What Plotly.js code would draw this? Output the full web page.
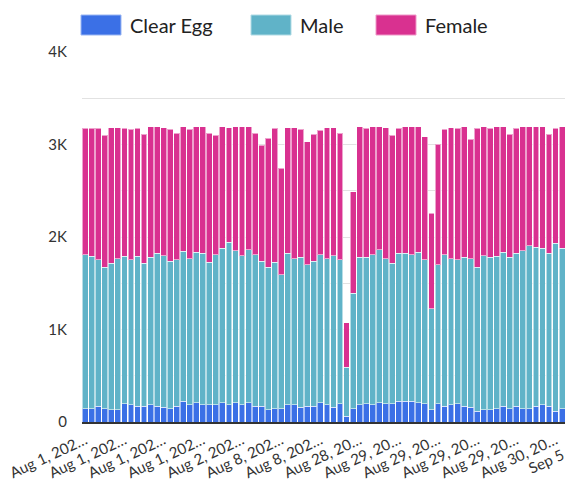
<!DOCTYPE html>
<html>
<head>
<meta charset="utf-8">
<script src="https://cdn.plot.ly/plotly-3.0.1.min.js"></script>
<style>
  html, body { margin: 0; padding: 0; overflow: hidden; background: #fff; }
  #chart { width: 600px; height: 483px; }
</style>
</head>
<body>
<div id="chart"></div>
<script>
// hourly buckets, the chart is cut off on the right so the last few are out of view
const categories = [
  'Aug 1, 2023, 00:00', 'Aug 1, 2023, 01:00', 'Aug 1, 2023, 02:00', 'Aug 1, 2023, 03:00',
  'Aug 1, 2023, 04:00', 'Aug 1, 2023, 05:00', 'Aug 1, 2023, 06:00', 'Aug 1, 2023, 07:00',
  'Aug 1, 2023, 08:00', 'Aug 1, 2023, 09:00', 'Aug 1, 2023, 10:00', 'Aug 1, 2023, 11:00',
  'Aug 1, 2023, 12:00', 'Aug 1, 2023, 13:00', 'Aug 1, 2023, 14:00', 'Aug 1, 2023, 15:00',
  'Aug 1, 2023, 16:00', 'Aug 1, 2023, 17:00', 'Aug 1, 2023, 18:00', 'Aug 1, 2023, 19:00',
  'Aug 1, 2023, 20:00', 'Aug 1, 2023, 21:00', 'Aug 1, 2023, 22:00', 'Aug 1, 2023, 23:00',
  'Aug 2, 2023, 00:00', 'Aug 2, 2023, 01:00', 'Aug 2, 2023, 02:00', 'Aug 2, 2023, 03:00',
  'Aug 2, 2023, 04:00', 'Aug 2, 2023, 05:00',
  'Aug 8, 2023, 00:00', 'Aug 8, 2023, 01:00', 'Aug 8, 2023, 02:00', 'Aug 8, 2023, 03:00',
  'Aug 8, 2023, 04:00', 'Aug 8, 2023, 05:00', 'Aug 8, 2023, 06:00', 'Aug 8, 2023, 07:00',
  'Aug 8, 2023, 08:00', 'Aug 8, 2023, 09:00', 'Aug 8, 2023, 10:00', 'Aug 8, 2023, 11:00',
  'Aug 28, 2023, 18:00', 'Aug 28, 2023, 19:00', 'Aug 28, 2023, 20:00', 'Aug 28, 2023, 21:00',
  'Aug 28, 2023, 22:00', 'Aug 28, 2023, 23:00',
  'Aug 29, 2023, 00:00', 'Aug 29, 2023, 01:00', 'Aug 29, 2023, 02:00', 'Aug 29, 2023, 03:00',
  'Aug 29, 2023, 04:00', 'Aug 29, 2023, 05:00', 'Aug 29, 2023, 06:00', 'Aug 29, 2023, 07:00',
  'Aug 29, 2023, 08:00', 'Aug 29, 2023, 09:00', 'Aug 29, 2023, 10:00', 'Aug 29, 2023, 11:00',
  'Aug 29, 2023, 12:00', 'Aug 29, 2023, 13:00', 'Aug 29, 2023, 14:00', 'Aug 29, 2023, 15:00',
  'Aug 29, 2023, 16:00', 'Aug 29, 2023, 17:00', 'Aug 29, 2023, 18:00', 'Aug 29, 2023, 19:00',
  'Aug 29, 2023, 20:00', 'Aug 29, 2023, 21:00', 'Aug 29, 2023, 22:00', 'Aug 29, 2023, 23:00',
  'Aug 30, 2023, 00:00', 'Aug 30, 2023, 01:00', 'Aug 30, 2023, 02:00', 'Aug 30, 2023, 03:00',
  'Aug 30, 2023, 04:00', 'Aug 30, 2023, 05:00',
  'Sep 5, 2023, 00:00'
];

const clearEgg = [
  144, 144, 169, 144, 130, 130, 198, 184, 169, 169,
  184, 169, 159, 144, 169, 223, 184, 209, 184, 184,
  184, 209, 184, 209, 184, 209, 169, 169, 130, 144,
  144, 184, 184, 159, 169, 169, 209, 184, 159, 198,
  61, 144, 184, 198, 184, 209, 198, 198, 223, 223,
  223, 209, 198, 130, 198, 169, 184, 198, 169, 159,
  115, 130, 130, 144, 169, 144, 169, 144, 144, 169,
  184, 169, 115, 144, 150, 165, 140, 155, 160
];

const male = [
  1665, 1650, 1586, 1528, 1586, 1636, 1596, 1571, 1625, 1546,
  1596, 1654, 1636, 1596, 1586, 1625, 1582, 1625, 1640, 1542,
  1625, 1668, 1759, 1640, 1611, 1654, 1640, 1571, 1542, 1582,
  1449, 1640, 1582, 1622, 1532, 1571, 1600, 1582, 1636, 1557,
  530, 1247, 1596, 1582, 1625, 1654, 1568, 1517, 1600, 1600,
  1586, 1625, 1557, 1095, 1503, 1640, 1582, 1557, 1611, 1607,
  1557, 1665, 1650, 1650, 1665, 1636, 1654, 1705, 1759, 1719,
  1694, 1654, 1816, 1733, 1720, 1690, 1740, 1705, 1680
];

const female = [
  1369, 1384, 1423, 1427, 1463, 1413, 1384, 1409, 1384, 1395,
  1413, 1369, 1384, 1423, 1369, 1344, 1398, 1359, 1369, 1398,
  1290, 1315, 1236, 1344, 1398, 1330, 1315, 1254, 1398, 1452,
  1153, 1355, 1413, 1384, 1330, 1369, 1344, 1413, 1384, 1369,
  483, 1099, 1413, 1398, 1384, 1330, 1413, 1384, 1355, 1369,
  1384, 1359, 1330, 1034, 1301, 1355, 1413, 1423, 1413, 1290,
  1506, 1398, 1398, 1398, 1359, 1330, 1355, 1344, 1290, 1305,
  1315, 1286, 1247, 1315, 1320, 1345, 1300, 1330, 1350
];

// every 6th bucket gets a (truncated) label
const tickIndex = [0, 6, 12, 18, 24, 30, 36, 42, 48, 54, 60, 66, 72, 78];
const tickLabels = [
  'Aug 1, 202…', 'Aug 1, 202…', 'Aug 1, 202…', 'Aug 1, 202…', 'Aug 2, 202…',
  'Aug 8, 202…', 'Aug 8, 202…', 'Aug 28, 20…', 'Aug 29, 20…', 'Aug 29, 20…',
  'Aug 29, 20…', 'Aug 29, 20…', 'Aug 30, 20…', 'Sep 5, 20…'
];

const yTickVals = [0, 1000, 2000, 3000, 4000];
const yTickText = ['0', '1K', '2K', '3K', '4K'];

const seriesNames = ['Clear Egg', 'Male', 'Female'];
const seriesColors = ['#3b70e6', '#60b3c8', '#d93190'];
const seriesEdges = ['#9ab6f3', '#b0dbe5', '#ef98c8'];

const FONT = 'Lato, "Open Sans", sans-serif';

const traces = [clearEgg, male, female].map((values, i) => ({
  type: 'bar',
  name: seriesNames[i],
  x: categories,
  y: values,
  marker: {
    color: seriesColors[i],
    line: { color: 'rgba(255,255,255,0.55)', width: 1 },
  },
  hoverinfo: 'x+y+name',
}));

// plot area in pixels, used for the hand made legend
const margin = { l: 82, r: 2, t: 52, b: 61 };
const W = 600, H = 483;
const plotW = W - margin.l - margin.r;
const plotH = H - margin.t - margin.b;
const fx = px => (px - margin.l) / plotW;
const fy = py => (H - margin.b - py) / plotH;

// legend: big swatches like the original
const legendX = [81, 251, 376];
const shapes = legendX.map((x0, i) => ({
  type: 'rect',
  xref: 'paper', yref: 'paper',
  x0: fx(x0), x1: fx(x0 + 40),
  y0: fy(35), y1: fy(15),
  fillcolor: seriesColors[i],
  line: { color: seriesEdges[i], width: 1 },
}));
const annotations = legendX.map((x0, i) => ({
  xref: 'paper', yref: 'paper',
  x: fx(x0 + 47), y: fy(25),
  xanchor: 'left', yanchor: 'middle',
  text: seriesNames[i],
  showarrow: false,
  font: { family: FONT, size: 20, color: '#222' },
}));

const layout = {
  width: W,
  height: H,
  margin: margin,
  barmode: 'stack',
  bargap: 0.1,
  showlegend: false,
  paper_bgcolor: '#fff',
  plot_bgcolor: '#fff',
  font: { family: FONT, size: 14, color: '#333' },
  xaxis: {
    type: 'category',
    range: [-0.5, categories.length - 0.5],
    tickmode: 'array',
    tickvals: tickIndex.map(i => categories[i]),
    ticktext: tickLabels,
    tickangle: -25,
    ticks: '',
    ticklabelstandoff: 2,
    showgrid: false,
    showline: true,
    linecolor: '#333',
    linewidth: 2,
    tickfont: { family: FONT, size: 15, color: '#333' },
    fixedrange: true,
  },
  yaxis: {
    range: [0, 4000],
    tickmode: 'array',
    tickvals: yTickVals,
    ticktext: yTickText,
    ticks: '',
    ticklabelstandoff: 14,
    showgrid: true,
    gridcolor: '#e2e2e2',
    gridwidth: 1,
    zeroline: false,
    minor: { dtick: 500, showgrid: true, gridcolor: '#e2e2e2', gridwidth: 1, ticks: '' },
    tickfont: { family: FONT, size: 15, color: '#333' },
    fixedrange: true,
  },
  shapes: shapes,
  annotations: annotations,
};

Plotly.newPlot('chart', traces, layout, { displayModeBar: false, staticPlot: true });
</script>
</body>
</html>
